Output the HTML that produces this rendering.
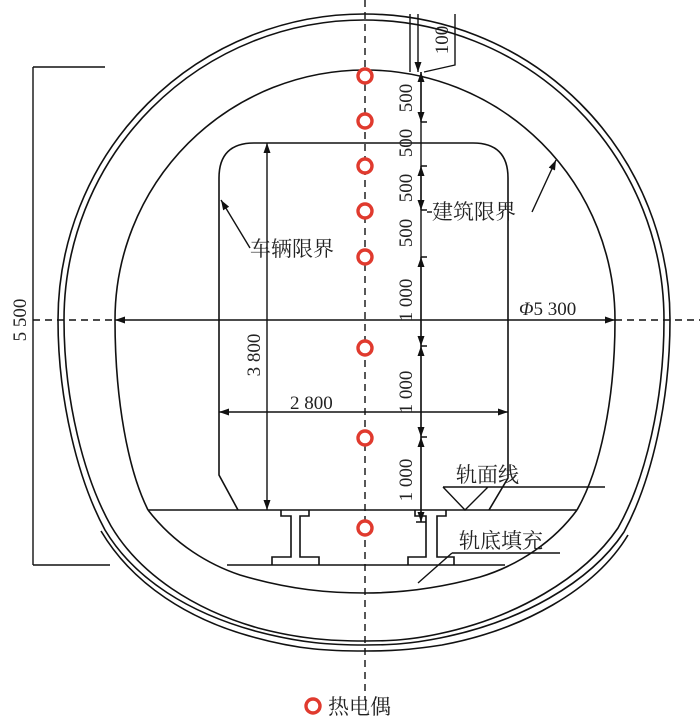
<!DOCTYPE html>
<html><head><meta charset="utf-8"><style>
html,body{margin:0;padding:0;background:#fff;}
svg{display:block;}
text{font-family:"Liberation Serif","Noto Serif CJK SC",serif;fill:#222;}
.cn{font-family:"Liberation Serif","Noto Serif CJK SC","Noto Sans CJK SC",serif;}
</style></head><body>
<svg width="700" height="725" viewBox="0 0 700 725" xmlns="http://www.w3.org/2000/svg">
<defs>
<marker id="a" viewBox="0 0 10 10" refX="10" refY="5" markerWidth="10" markerHeight="10" markerUnits="userSpaceOnUse" orient="auto-start-reverse"><path d="M0,1.5 L10,5 L0,8.5z" fill="#111"/></marker>
</defs>
<g fill="none" stroke="#111" stroke-width="1.6">
<path d="M58,320 A306,306 0 0 1 670,320 C670,400 652,480 624,532 C590,583 520,622 440,638 C410,644 390,645 365,645 C330,645 300,643 255,631 C190,613 135,580 105,530 C78,480 58,400 58,320"/>
<path d="M64,320 A300,300 0 0 1 664,320 C664,400 646,478 618,528 C584,578 515,618 438,634 C410,640 390,641 365,641 C330,641 300,639 258,628 C195,610 140,575 111,526 C84,478 64,400 64,320"/>
<path d="M101,531 C133,585 190,620 253,637 C300,650 330,651 365,651 C390,651 410,650 442,645 C522,630 595,590 628,535"/>
<path d="M148,510 C128,470 115,400 115,320 A250,250 0 0 1 615,320 C615,400 600,470 577,510"/>
<path d="M148,510 C175,545 210,565 240,575 C290,590 330,593 365,593 C400,593 440,588 480,577 C520,565 555,540 577,510"/>
<line x1="148" y1="510" x2="577" y2="510"/>
<line x1="227" y1="565" x2="505" y2="565"/>
<path d="M238,510 L219,475 L219,178 Q219,143 254,143 L473,143 Q508,143 508,178 L508,478 L489,510"/>
<path d="M281,510 L281,516 L291,516 L291,557 L272,557 L272,565 M309,510 L309,516 L300,516 L300,557 L319,557 L319,565"/>
<path d="M415,510 L415,516 L426,516 L426,557 L408,557 L408,565 M446,510 L446,516 L437,516 L437,557 L454,557 L454,565"/>
</g>
<g stroke="#111" stroke-width="1.4" fill="none">
<line x1="365" y1="0" x2="365" y2="700" stroke-dasharray="7,5"/>
<line x1="33" y1="320" x2="115" y2="320" stroke-dasharray="7,5"/>
<line x1="615" y1="320" x2="700" y2="320" stroke-dasharray="7,5"/>
<line x1="115" y1="320" x2="615" y2="320" marker-start="url(#a)" marker-end="url(#a)"/>
<line x1="33" y1="67" x2="33" y2="565"/>
<line x1="33" y1="67" x2="105" y2="67"/>
<line x1="33" y1="565" x2="110" y2="565"/>
<line x1="267" y1="143" x2="267" y2="510" marker-start="url(#a)" marker-end="url(#a)"/>
<line x1="219" y1="412" x2="508" y2="412" marker-start="url(#a)" marker-end="url(#a)"/>
<line x1="421" y1="72" x2="421" y2="522"/>
<line x1="421" y1="72" x2="421" y2="122" marker-start="url(#a)" marker-end="url(#a)"/>
<line x1="421" y1="166" x2="421" y2="210" marker-start="url(#a)" marker-end="url(#a)"/>
<line x1="421" y1="257" x2="421" y2="346" marker-start="url(#a)" marker-end="url(#a)"/>
<line x1="421" y1="346" x2="421" y2="437" marker-start="url(#a)" marker-end="url(#a)"/>
<line x1="421" y1="437" x2="421" y2="510" marker-start="url(#a)"/>
<line x1="421" y1="510" x2="421" y2="522" marker-end="url(#a)"/>
<path d="M421,122h6 M421,166h6 M421,210h6 M421,257h6 M421,346h6 M421,437h6 M416,522h10"/>
<line x1="418" y1="14" x2="418" y2="72" marker-end="url(#a)"/>
<path d="M410,14 L410,72 M455,14 L455,65 L424,72"/>
<path d="M250,248 L221,200" marker-end="url(#a)"/>
<path d="M532,212 L556,160" marker-end="url(#a)"/>
<path d="M427,212 L432,212"/>
<path d="M443,487 L605,487 M443,487 L465,510 L488,487"/>
<path d="M452,553 L560,553 M452,553 L418,583"/>
</g>
<g fill="#fff" stroke="#e03a2e" stroke-width="3.4">
<circle cx="365" cy="76" r="7"/><circle cx="365" cy="121" r="7"/><circle cx="365" cy="166" r="7"/><circle cx="365" cy="211" r="7"/><circle cx="365" cy="257" r="7"/><circle cx="365" cy="348" r="7"/><circle cx="365" cy="438" r="7"/><circle cx="365" cy="528" r="7"/>
<circle cx="313" cy="706" r="7"/>
</g>
<g font-size="19">
<text transform="translate(26,320) rotate(-90)" text-anchor="middle">5 500</text>
<text transform="translate(260,355) rotate(-90)" text-anchor="middle">3 800</text>
<text x="290" y="409">2 800</text>
<text x="519" y="315"><tspan font-style="italic">Φ</tspan>5 300</text>
<text transform="translate(448,40) rotate(-90)" text-anchor="middle">100</text>
<text transform="translate(412,98) rotate(-90)" text-anchor="middle">500</text>
<text transform="translate(412,143) rotate(-90)" text-anchor="middle">500</text>
<text transform="translate(412,188) rotate(-90)" text-anchor="middle">500</text>
<text transform="translate(412,233) rotate(-90)" text-anchor="middle">500</text>
<text transform="translate(412,300) rotate(-90)" text-anchor="middle">1 000</text>
<text transform="translate(412,392) rotate(-90)" text-anchor="middle">1 000</text>
<text transform="translate(412,480) rotate(-90)" text-anchor="middle">1 000</text>
</g>
<g font-size="21">
<text x="250" y="256" class="cn">车辆限界</text>
<text x="432" y="219" class="cn">建筑限界</text>
<text x="456" y="482" class="cn">轨面线</text>
<text x="459" y="548" class="cn">轨底填充</text>
<text x="328" y="714" class="cn">热电偶</text>
</g>
</svg>
</body></html>
